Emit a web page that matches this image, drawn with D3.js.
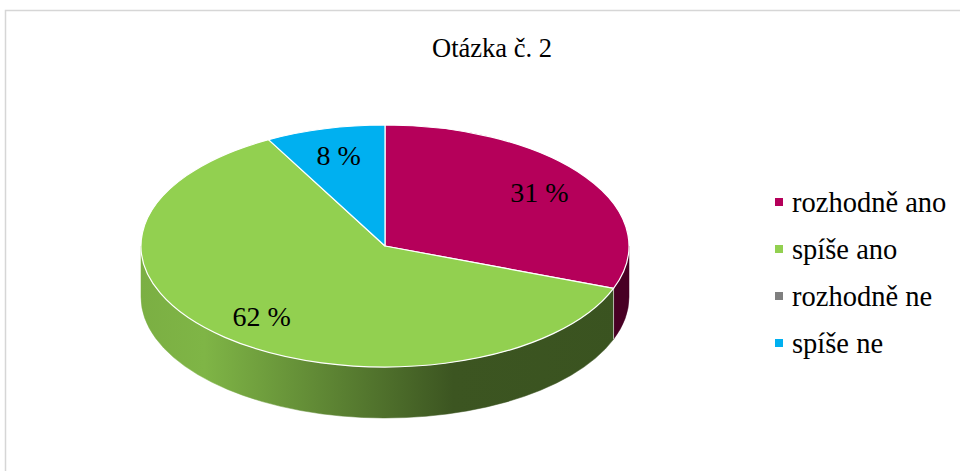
<!DOCTYPE html>
<html>
<head>
<meta charset="utf-8">
<script src="https://cdn.jsdelivr.net/npm/d3@7"></script>
<style>
  html, body { margin: 0; padding: 0; background: #fff; }
  svg { display: block; }
  text { font-family: "Liberation Serif", "DejaVu Serif", serif; fill: #000; }
</style>
</head>
<body>
<svg id="chart" width="960" height="471"></svg>
<script>
const title = "Otázka č. 2";
const categories = ["rozhodně ano", "spíše ano", "rozhodně ne", "spíše ne"];
const values = [31, 62, 0, 8];
const colors = ["#B5005A", "#92D050", "#7F7F7F", "#00B0F0"];

const W = 960, H = 471;
const svg = d3.select("#chart");

// frame
svg.append("rect")
  .attr("x", 5.5).attr("y", 10.5)
  .attr("width", W + 20).attr("height", H + 20)
  .attr("fill", "#fff").attr("stroke", "#d6d6d6").attr("stroke-width", 1.5);

// title
svg.append("text")
  .attr("x", 492).attr("y", 57)
  .attr("text-anchor", "middle")
  .attr("font-size", 26.5)
  .text(title);

// pie geometry
const cx = 385, cy = 246, rx = 244, ry = 121, depth = 51;
const pie = d3.pie().sort(null).value(d => d.v);
const data = categories.map((c, i) => ({ c, v: values[i], color: colors[i] }));
const arcs = pie(data);

const px = a => cx + rx * Math.sin(a);
const py = (a, dy = 0) => cy + dy - ry * Math.cos(a);

const defs = svg.append("defs");
const xScale = d3.scaleLinear().domain([0, 1]).range([cx - rx, cx + rx]);
const shadeStops = [[0, 0.84], [0.13, 0.87], [0.64, 0.41], [1, 0.40]];
arcs.forEach((d, i) => {
  const g = defs.append("linearGradient")
    .attr("id", "side" + i)
    .attr("gradientUnits", "userSpaceOnUse")
    .attr("x1", xScale(0)).attr("x2", xScale(1))
    .attr("y1", 0).attr("y2", 0);
  const base = d3.rgb(d.data.color);
  shadeStops.forEach(([o, f]) => {
    g.append("stop").attr("offset", o)
      .attr("stop-color", d3.rgb(base.r * f, base.g * f, base.b * f).formatHex());
  });
});

// outer side walls (visible part: angles between PI/2 and 3PI/2)
const sides = svg.append("g");
arcs.forEach((d, i) => {
  const s = Math.max(d.startAngle, Math.PI / 2);
  const e = Math.min(d.endAngle, 3 * Math.PI / 2);
  if (e <= s) return;
  const large = (e - s) > Math.PI ? 1 : 0;
  const p = `M${px(s)},${py(s)} A${rx},${ry} 0 ${large} 1 ${px(e)},${py(e)}` +
            ` L${px(e)},${py(e, depth)} A${rx},${ry} 0 ${large} 0 ${px(s)},${py(s, depth)} Z`;
  sides.append("path").attr("d", p)
    .attr("fill", `url(#side${i})`)
    .attr("stroke", `url(#side${i})`).attr("stroke-width", 0.5);
});
// separating vertical edges on the side
arcs.forEach((d) => {
  [d.startAngle].forEach(a => {
    if (a > Math.PI / 2 && a < 3 * Math.PI / 2 && d.value > 0) {
      sides.append("line")
        .attr("x1", px(a)).attr("y1", py(a))
        .attr("x2", px(a)).attr("y2", py(a, depth))
        .attr("stroke", "#ffffff").attr("stroke-opacity", 0.6).attr("stroke-width", 1);
    }
  });
});

// top faces
const tops = svg.append("g");
arcs.forEach((d) => {
  if (d.value <= 0) return;
  const s = d.startAngle, e = d.endAngle;
  const large = (e - s) > Math.PI ? 1 : 0;
  const p = `M${cx},${cy} L${px(s)},${py(s)} A${rx},${ry} 0 ${large} 1 ${px(e)},${py(e)} Z`;
  tops.append("path").attr("d", p)
    .attr("fill", d.data.color)
    .attr("stroke", "#ffffff").attr("stroke-width", 1.2)
    .attr("stroke-linejoin", "round");
});

// data labels
const labelR = 0.77;
svg.append("g").selectAll("text")
  .data(arcs.filter(d => d.value > 0))
  .join("text")
  .attr("x", d => cx + rx * labelR * Math.sin((d.startAngle + d.endAngle) / 2))
  .attr("y", d => cy - ry * labelR * Math.cos((d.startAngle + d.endAngle) / 2))
  .attr("text-anchor", "middle")
  .attr("dominant-baseline", "central")
  .attr("font-size", 28)
  .text(d => d.data.v + " %");

// legend
const legY = d3.scalePoint().domain(categories).range([202, 343]);
const leg = svg.append("g");
leg.selectAll("rect").data(data).join("rect")
  .attr("x", 775).attr("y", d => legY(d.c) - 4)
  .attr("width", 8).attr("height", 8)
  .attr("fill", d => d.color);
leg.selectAll("text").data(data).join("text")
  .attr("x", 792).attr("y", d => legY(d.c))
  .attr("dominant-baseline", "central")
  .attr("font-size", 28.5)
  .text(d => d.c);
</script>
</body>
</html>
